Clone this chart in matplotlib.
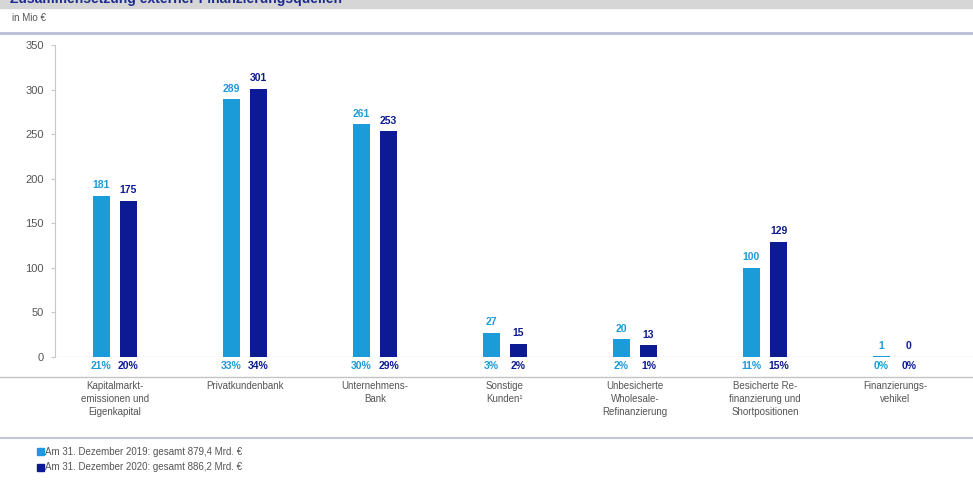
import matplotlib.pyplot as plt
from matplotlib.patches import Rectangle
from matplotlib.lines import Line2D
import numpy as np

plt.rcParams['font.family'] = ['Liberation Sans', 'DejaVu Sans']

categories = [
    'Kapitalmarkt-\nemissionen und\nEigenkapital',
    'Privatkundenbank',
    'Unternehmens-\nBank',
    'Sonstige\nKunden¹',
    'Unbesicherte\nWholesale-\nRefinanzierung',
    'Besicherte Re-\nfinanzierung und\nShortpositionen',
    'Finanzierungs-\nvehikel',
]
values_2019 = [181, 289, 261, 27, 20, 100, 1]
values_2020 = [175, 301, 253, 15, 13, 129, 0]
share_2019 = ['21%', '33%', '30%', '3%', '2%', '11%', '0%']
share_2020 = ['20%', '34%', '29%', '2%', '1%', '15%', '0%']
legend_labels = [
    'Am 31. Dezember 2019: gesamt 879,4 Mrd. €',
    'Am 31. Dezember 2020: gesamt 886,2 Mrd. €',
]
title = 'Zusammensetzung externer Finanzierungsquellen'

light = '#1b9bd7'
dark = '#0c1a94'
grey_text = '#555555'

fig = plt.figure(figsize=(9.73, 4.8), dpi=100)
W, H = 973, 480

# header band, title runs off the top edge
fig.patches.append(Rectangle((0, 1 - 8 / H), 1, 8 / H, transform=fig.transFigure,
                             color='#d6d6d6', zorder=0))
fig.text(10 / W, 1 - 3 / H, title, color='#1c2a8c', fontsize=10, fontweight='bold',
         va='baseline', ha='left')
fig.text(12 / W, 1 - 18 / H, 'in Mio €', fontsize=7, color=grey_text, va='center')

# separator lines
fig.add_artist(Line2D([0, 1], [1 - 33 / H] * 2, transform=fig.transFigure,
                      color='#b9bdd6', lw=2))
fig.add_artist(Line2D([0, 1], [1 - 377 / H] * 2, transform=fig.transFigure,
                      color='#c4c4c4', lw=1))
fig.add_artist(Line2D([0, 1], [1 - 438 / H] * 2, transform=fig.transFigure,
                      color='#c2c6d6', lw=1.5))

ax = fig.add_axes([55 / W, 1 - 357 / H, 1 - 55 / W, (357 - 45) / H])
x = np.arange(len(categories))
bw = 0.13
off = 0.105
ax.bar(x - off, values_2019, bw, color=light)
ax.bar(x + off, values_2020, bw, color=dark)

for i in range(len(categories)):
    ax.annotate(str(values_2019[i]), (x[i] - off, values_2019[i]), xytext=(0, 4),
                textcoords='offset points', ha='center', va='bottom',
                fontsize=7.5, color=light, fontweight='bold')
    ax.annotate(str(values_2020[i]), (x[i] + off, values_2020[i]), xytext=(0, 4),
                textcoords='offset points', ha='center', va='bottom',
                fontsize=7.5, color=dark, fontweight='bold')
    ax.annotate(share_2019[i], (x[i] - off, 0), xytext=(0, -3),
                textcoords='offset points', ha='center', va='top',
                fontsize=7.5, color=light, fontweight='bold')
    ax.annotate(share_2020[i], (x[i] + off, 0), xytext=(0, -3),
                textcoords='offset points', ha='center', va='top',
                fontsize=7.5, color=dark, fontweight='bold')
    ax.annotate(categories[i], (x[i], 0), xytext=(0, -17.5),
                textcoords='offset points', ha='center', va='top',
                fontsize=7, color=grey_text, linespacing=1.35)

ax.set_xlim(-0.46, 6.6)
ax.set_ylim(0, 350)
ax.set_yticks(range(0, 351, 50))
ax.tick_params(axis='y', labelsize=8, labelcolor=grey_text, color='#c8c8c8',
               length=3, pad=5)
ax.set_xticks([])
for s in ['top', 'right', 'bottom']:
    ax.spines[s].set_visible(False)
ax.spines['left'].set_color('#c8c8c8')
ax.axhline(0, color='#e2e2e2', lw=1, zorder=0)
ax.patch.set_alpha(0)

# legend
for k, (lab, col) in enumerate(zip(legend_labels, [light, dark])):
    yy = 1 - (452 + 15.5 * k) / H
    fig.patches.append(Rectangle((37 / W, yy - 3 / H), 7 / W, 7 / H,
                                 transform=fig.transFigure, color=col))
    fig.text(45 / W, yy, lab, fontsize=7, color=grey_text, va='center')

fig.savefig('out.png', dpi=100)
